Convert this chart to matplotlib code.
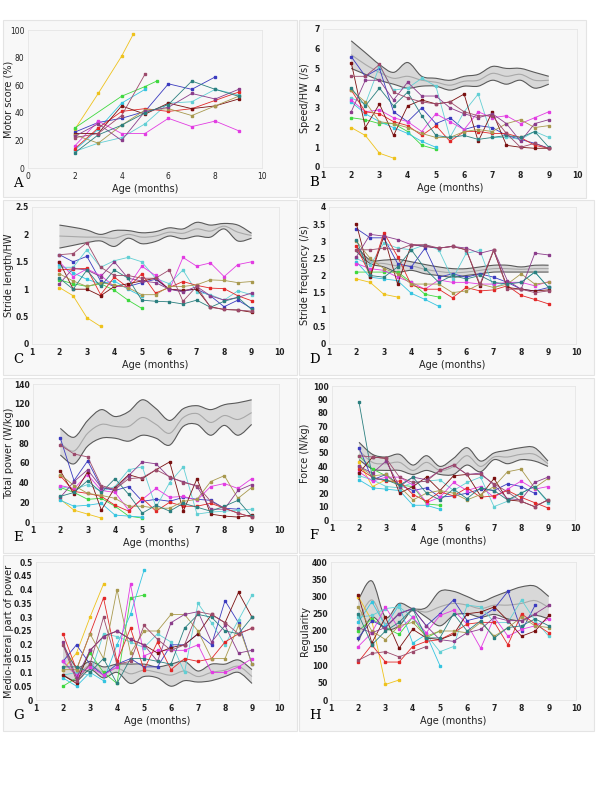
"""
Eight-panel plot of motor development measures by age (months), A-H.
"""
import numpy as np
import matplotlib.pyplot as plt
from matplotlib.patches import Rectangle, PathPatch
from matplotlib.path import Path
from matplotlib.transforms import blended_transform_factory

nan = np.nan

# one colour per infant
subject_colors = ["#eec21c", "#3fd83f", "#35c4e0", "#3b3bbf", "#62cfd4", "#e23ce2",
                  "#e22828", "#7a1010", "#a8994e", "#8b3d8b", "#2b7f7f", "#9c4a6c"]

ages = [2, 2.5, 3, 3.5, 4, 4.5, 5, 5.5, 6, 6.5, 7, 7.5, 8, 8.5, 9]

# panel A: motor score, each infant has its own ages
motor_ages = [[2, 3, 4, 4.5], [2, 4, 5, 5.5], [2, 3, 4, 5], [2, 3, 4, 5, 6, 7, 8],
              [2, 3, 4, 5, 6, 7, 8, 9], [2, 3, 4, 5, 6, 7, 8, 9], [2, 3, 4, 5, 6, 7, 8, 9],
              [2, 3, 4, 5, 6, 7, 8, 9], [2, 3, 4, 5, 6, 7, 8, 9], [2, 3, 4, 5, 6, 7, 8, 9],
              [2, 3, 4, 5, 6, 7, 8, 9], [2, 3, 4, 5]]
motor_score = [[28, 54, 81, 97], [29, 52, 59, 63], [13, 28, 47, 57], [26, 33, 36, 41, 61, 57, 66],
               [12, 18, 22, 32, 47, 48, 57, 53], [16, 34, 25, 25, 36, 30, 34, 27],
               [14, 29, 41, 43, 41, 43, 49, 55], [25, 25, 45, 39, 47, 43, 45, 50],
               [24, 18, 31, 42, 43, 38, 45, 52], [23, 32, 20, 41, 44, 54, 50, 57],
               [11, 24, 31, 40, 46, 63, 57, 52], [22, 25, 38, 68]]

speed = [
    [2.0, 1.6, 0.7, 0.45] + [nan] * 11,
    [2.5, 2.4, 2.2, 2.2, 1.8, 1.1, 0.9] + [nan] * 8,
    [3.3, 2.7, 2.3, 2.0, 1.7, 1.3, 1.0] + [nan] * 8,
    [5.6, 4.6, 5.0, 2.8, 2.3, 3.0, 2.2, 2.5, 1.9, 2.1, 2.0, 1.6, 1.4, 1.2, 0.95],
    [3.5, 3.2, 5.1, 3.9, 4.0, 4.5, 4.1, 1.5, 2.8, 3.7, 1.5, 1.5, 1.4, 1.8, 1.5],
    [3.4, 2.8, 2.9, 2.5, 2.3, 1.8, 2.7, 2.3, 1.9, 2.8, 2.5, 2.6, 2.2, 2.5, 2.8],
    [3.9, 2.8, 2.7, 2.3, 2.1, 1.6, 2.1, 1.3, 1.8, 1.8, 1.7, 1.7, 1.5, 1.1, 0.95],
    [5.3, 2.0, 3.2, 1.6, 3.1, 3.4, 3.2, 3.3, 3.7, 1.3, 2.8, 1.1, 1.0, 0.95, 0.95],
    [3.9, 3.3, 2.3, 2.2, 2.0, 1.7, 1.5, 1.5, 1.8, 1.9, 1.8, 2.2, 2.4, 2.0, 2.1],
    [2.8, 4.4, 4.4, 3.4, 4.3, 3.6, 3.6, 3.0, 2.7, 2.5, 2.7, 2.2, 1.3, 2.2, 2.4],
    [4.0, 3.1, 4.0, 3.1, 3.8, 2.6, 1.6, 1.5, 1.6, 1.4, 1.5, 1.6, 1.5, 1.8, 1.0],
    [4.6, 4.6, 5.2, 3.8, 3.5, 3.3, 3.2, 3.3, 2.8, 2.6, 2.6, 1.7, 1.0, 1.2, 0.95],
]
speed_high = [6.4, 5.8, 5.2, 4.8, 5.3, 4.6, 4.5, 4.4, 4.6, 4.7, 5.1, 5.0, 5.0, 4.8, 4.6]
speed_mid = [5.7, 5.2, 4.8, 4.5, 4.6, 4.4, 4.3, 4.15, 4.35, 4.4, 4.75, 4.6, 4.7, 4.4, 4.4]
speed_low = [5.0, 4.7, 4.4, 4.2, 4.0, 4.1, 4.1, 3.9, 4.1, 4.1, 4.4, 4.2, 4.4, 4.0, 4.2]

stride_length = [
    [1.03, 0.88, 0.48, 0.32] + [nan] * 11,
    [1.17, 1.1, 1.05, 1.1, 0.98, 0.8, 0.65] + [nan] * 8,
    [1.45, 1.3, 1.18, 1.1, 1.15, 1.0, 0.87] + [nan] * 8,
    [1.63, 1.5, 1.6, 1.15, 1.05, 1.05, 1.12, 1.18, 1.0, 0.97, 1.0, 0.88, 0.68, 0.8, 0.65],
    [1.4, 1.4, 1.72, 1.4, 1.52, 1.58, 1.5, 1.2, 1.1, 1.35, 0.95, 0.9, 0.8, 0.97, 0.9],
    [1.5, 1.23, 1.37, 1.25, 1.05, 1.05, 1.42, 1.25, 0.98, 1.58, 1.42, 1.48, 1.23, 1.45, 1.5],
    [1.35, 1.37, 1.38, 0.9, 1.22, 1.03, 1.28, 0.93, 1.03, 1.14, 1.07, 1.02, 1.01, 0.88, 0.79],
    [1.5, 1.0, 1.0, 0.88, 1.05, 1.1, 1.15, 1.2, 1.0, 0.98, 1.0, 0.68, 0.63, 0.62, 0.58],
    [1.28, 1.15, 1.05, 1.12, 1.08, 1.03, 0.9, 0.9, 1.05, 1.05, 1.08, 1.17, 1.16, 1.12, 1.14],
    [1.1, 1.38, 1.35, 1.23, 1.5, 1.2, 1.15, 1.12, 1.0, 0.95, 1.05, 0.88, 0.8, 0.85, 0.93],
    [1.2, 1.0, 1.35, 1.05, 1.35, 1.2, 0.8, 0.78, 0.77, 0.73, 0.8, 0.67, 0.78, 0.85, 0.63],
    [1.63, 1.65, 1.85, 1.4, 1.25, 1.25, 1.2, 1.2, 1.35, 0.78, 1.05, 0.67, 0.63, 0.62, 0.6],
]
stride_length_high = [2.17, 2.13, 2.08, 2.0, 2.07, 2.07, 2.03, 2.05, 2.12, 2.1, 2.22, 2.17, 2.2, 2.17, 2.02]
stride_length_mid = [1.97, 1.96, 1.95, 1.95, 1.93, 2.0, 1.95, 1.97, 2.04, 2.02, 2.1, 2.06, 2.15, 2.04, 1.98]
stride_length_low = [1.75, 1.8, 1.85, 1.88, 1.78, 1.93, 1.83, 1.87, 1.97, 1.92, 1.97, 1.95, 2.1, 1.88, 1.93]

stride_freq = [
    [1.9, 1.8, 1.45, 1.37] + [nan] * 11,
    [2.1, 2.1, 2.1, 2.1, 1.8, 1.45, 1.37] + [nan] * 8,
    [2.4, 1.95, 1.9, 1.85, 1.48, 1.3, 1.1] + [nan] * 8,
    [3.37, 3.1, 3.1, 2.35, 2.25, 2.8, 1.95, 2.05, 1.95, 2.05, 1.95, 1.8, 1.6, 1.55, 1.65],
    [2.5, 2.3, 2.95, 2.8, 2.75, 2.9, 2.75, 1.9, 2.65, 2.73, 1.65, 1.8, 1.8, 2.1, 1.65],
    [2.35, 2.2, 2.15, 1.95, 1.8, 1.6, 1.87, 1.8, 1.8, 1.75, 1.75, 1.8, 1.8, 1.7, 1.82],
    [2.85, 2.0, 3.25, 2.55, 1.72, 1.6, 1.6, 1.35, 1.65, 1.55, 1.58, 1.7, 1.42, 1.3, 1.17],
    [3.5, 1.95, 3.15, 1.75, 2.9, 2.85, 2.8, 2.85, 2.75, 1.7, 2.73, 1.65, 1.6, 1.55, 1.58],
    [3.0, 2.5, 2.2, 2.05, 1.75, 1.75, 1.75, 1.5, 1.55, 1.75, 1.65, 1.75, 2.05, 1.75, 1.8],
    [2.55, 3.2, 3.15, 3.05, 2.9, 2.85, 2.8, 2.85, 2.8, 2.65, 2.75, 1.85, 1.6, 2.65, 2.6],
    [3.05, 2.0, 1.95, 2.25, 2.75, 2.2, 1.8, 2.0, 1.9, 2.0, 1.8, 1.75, 1.8, 2.1, 1.65],
    [2.75, 2.75, 2.8, 2.75, 2.9, 2.9, 2.8, 2.85, 2.75, 1.75, 2.75, 1.6, 1.6, 1.5, 1.55],
]
stride_freq_high = [2.85, 2.45, 2.45, 2.47, 2.4, 2.32, 2.25, 2.2, 2.2, 2.25, 2.3, 2.3, 2.25, 2.3, 2.3]
stride_freq_mid = [2.78, 2.4, 2.35, 2.28, 2.28, 2.18, 2.12, 2.08, 2.1, 2.15, 2.2, 2.2, 2.18, 2.2, 2.2]
stride_freq_low = [2.7, 2.35, 2.25, 2.1, 2.15, 2.05, 2.0, 1.95, 2.0, 2.05, 2.1, 2.1, 2.1, 2.1, 2.1]

power = [
    [23, 12, 8, 4] + [nan] * 11,
    [35, 30, 23, 24, 16, 6, 4] + [nan] * 8,
    [22, 16, 17, 19, 7, 6, 5] + [nan] * 8,
    [85, 42, 62, 35, 32, 36, 21, 23, 21, 25, 23, 22, 14, 13, nan],
    [36, 33, 38, 31, 36, 53, 56, 15, 40, 56, 8, 10, 11, 12, 13],
    [37, 34, 48, 32, 30, 12, 23, 34, 25, 26, 22, 36, 39, 34, 44],
    [47, 31, 29, 26, 17, 11, 24, 11, 20, 16, 16, 19, 14, 9, 5],
    [52, 28, 51, 12, 35, 48, 44, 53, 61, 11, 44, 8, 6, 5, 7],
    [48, 37, 29, 27, 24, 16, 16, 14, 14, 21, 23, 41, 47, 24, 35],
    [25, 41, 53, 35, 33, 47, 61, 59, 45, 41, 36, 13, 13, 32, 38],
    [26, 30, 42, 30, 44, 28, 9, 17, 11, 19, 15, 11, 16, 22, 6],
    [78, 69, 66, 37, 33, 44, 45, 53, 46, 40, 37, 21, 14, 9, 5],
]
power_high = [95, 86, 103, 114, 107, 112, 124, 115, 103, 115, 118, 114, 119, 121, 124]
power_mid = [80, 72, 90, 99, 97, 97, 106, 99, 90, 106, 110, 101, 108, 104, 111]
power_low = [68, 59, 77, 85, 85, 82, 88, 85, 78, 97, 99, 88, 98, 88, 99]

force = [
    [43, 25, 30, 27] + [nan] * 11,
    [48, 38, 33, 26, 25, 12, 11] + [nan] * 8,
    [30, 24, 23, 22, 11, 11, 8] + [nan] * 8,
    [54, 30, 34, 26, 22, 24, 17, 18, 20, 23, 22, 27, 25, 20, nan],
    [33, 30, 25, 24, 28, 29, 30, 22, 28, 32, 10, 14, 20, 25, 13],
    [36, 29, 32, 32, 26, 13, 17, 28, 22, 25, 17, 23, 29, 23, 25],
    [38, 32, 29, 29, 19, 14, 21, 18, 24, 17, 18, 22, 17, 13, 9],
    [35, 47, 46, 20, 25, 32, 22, 33, 34, 18, 31, 15, 14, 10, 15],
    [40, 33, 34, 25, 15, 20, 22, 20, 15, 19, 25, 36, 38, 24, 31],
    [40, 35, 44, 25, 32, 30, 37, 41, 34, 35, 26, 16, 15, 28, 32],
    [88, 31, 30, 26, 32, 20, 15, 23, 16, 24, 22, 15, 20, 25, 14],
    [48, 47, 46, 32, 28, 29, 37, 41, 34, 34, 27, 21, 14, 10, 15],
]
force_high = [58, 49, 47, 49, 41, 48, 40, 46, 54, 44, 50, 52, 54, 54, 44]
force_mid = [52, 43, 42, 43, 37, 43, 37, 40, 48, 40, 47, 47, 49, 49, 42]
force_low = [45, 38, 37, 37, 34, 37, 34, 34, 41, 36, 45, 42, 45, 44, 40]

ml_power = [
    [0.11, 0.17, 0.3, 0.42] + [nan] * 11,
    [0.05, 0.08, 0.17, 0.1, 0.06, 0.37, 0.38] + [nan] * 8,
    [0.08, 0.05, 0.1, 0.07, 0.2, 0.31, 0.47] + [nan] * 8,
    [0.14, 0.2, 0.13, 0.09, 0.13, 0.15, 0.12, 0.12, 0.2, 0.2, 0.24, 0.2, 0.36, 0.28, 0.13],
    [0.09, 0.1, 0.09, 0.24, 0.23, 0.21, 0.19, 0.24, 0.21, 0.1, 0.35, 0.28, 0.2, 0.29, 0.38],
    [0.14, 0.09, 0.12, 0.09, 0.12, 0.42, 0.16, 0.18, 0.18, 0.18, 0.2, 0.1, 0.1, 0.12, 0.15],
    [0.24, 0.11, 0.24, 0.37, 0.14, 0.26, 0.11, 0.21, 0.11, 0.15, 0.14, 0.15, 0.21, 0.24, 0.26],
    [0.09, 0.06, 0.18, 0.23, 0.25, 0.22, 0.2, 0.17, 0.19, 0.2, 0.24, 0.31, 0.28, 0.39, 0.3],
    [0.11, 0.11, 0.24, 0.15, 0.4, 0.17, 0.25, 0.25, 0.31, 0.31, 0.25, 0.15, 0.15, 0.27, 0.13],
    [0.21, 0.08, 0.18, 0.23, 0.25, 0.22, 0.2, 0.14, 0.28, 0.31, 0.32, 0.21, 0.27, 0.17, 0.18],
    [0.12, 0.12, 0.1, 0.15, 0.06, 0.15, 0.15, 0.14, 0.13, 0.26, 0.31, 0.3, 0.25, 0.24, 0.3],
    [0.2, 0.07, 0.13, 0.3, 0.13, 0.14, 0.27, 0.22, 0.18, 0.2, 0.32, 0.31, 0.28, 0.24, 0.26],
]
ml_power_high = [0.2, 0.12, 0.14, 0.12, 0.13, 0.13, 0.13, 0.12, 0.13, 0.14, 0.105, 0.13, 0.13, 0.145, 0.11]
ml_power_mid = [0.14, 0.095, 0.125, 0.1, 0.115, 0.095, 0.108, 0.1, 0.09, 0.105, 0.085, 0.1, 0.108, 0.122, 0.085]
ml_power_low = [0.09, 0.07, 0.11, 0.08, 0.1, 0.06, 0.085, 0.08, 0.05, 0.07, 0.065, 0.07, 0.085, 0.1, 0.06]

regularity = [
    [300, 230, 45, 58] + [nan] * 11,
    [200, 235, 210, 190, 240, 180, 200] + [nan] * 8,
    [225, 285, 215, 275, 165, 190, 100] + [nan] * 8,
    [180, 230, 210, 250, 265, 215, 250, 290, 230, 240, 265, 315, 200, 275, nan],
    [240, 245, 265, 270, 240, 190, 140, 155, 275, 270, 225, 225, 290, 230, 185],
    [155, 195, 270, 205, 240, 195, 245, 260, 220, 150, 240, 185, 205, 215, 235],
    [110, 160, 110, 110, 155, 170, 175, 195, 220, 225, 225, 160, 250, 220, 195],
    [305, 165, 240, 150, 205, 180, 175, 190, 250, 255, 270, 230, 185, 200, 245],
    [270, 200, 175, 215, 225, 185, 200, 200, 195, 225, 185, 210, 240, 215, 210],
    [210, 195, 210, 250, 265, 215, 175, 170, 195, 205, 240, 230, 230, 250, 275],
    [250, 160, 200, 225, 265, 180, 180, 250, 200, 230, 180, 210, 215, 235, 215],
    [115, 135, 140, 125, 140, 155] + [nan] * 9,
]
regularity_high = [290, 345, 240, 280, 265, 268, 315, 315, 300, 285, 300, 315, 328, 330, 300]
regularity_mid = [230, 290, 222, 250, 262, 255, 270, 280, 275, 265, 275, 275, 280, 288, 268]
regularity_low = [170, 240, 205, 215, 260, 240, 215, 245, 250, 240, 248, 235, 230, 245, 235]

W, H = 600, 800


def smooth_path(xs, ys):
    # Catmull-Rom through the points, drawn as cubic bezier segments
    pts = np.column_stack([xs, ys]).astype(float)
    verts = [pts[0]]
    codes = [Path.MOVETO]
    n = len(pts)
    for i in range(n - 1):
        p0 = pts[max(i - 1, 0)]
        p1, p2 = pts[i], pts[i + 1]
        p3 = pts[min(i + 2, n - 1)]
        verts += [p1 + (p2 - p0) / 6, p2 - (p3 - p1) / 6, p2]
        codes += [Path.CURVE4] * 3
    return verts, codes


def add_band(ax, high, mid, low):
    vh, ch = smooth_path(ages, high)
    vl, cl = smooth_path(ages[::-1], low[::-1])
    cl[0] = Path.LINETO
    band = Path(vh + vl + [vh[0]], ch + cl + [Path.CLOSEPOLY])
    ax.add_patch(PathPatch(band, facecolor="#d8d8d8", edgecolor="none", zorder=1))
    for vals, col in ((high, "#5a5a5a"), (low, "#5a5a5a"), (mid, "#a8a8a8")):
        v, c = smooth_path(ages, vals)
        ax.add_patch(PathPatch(Path(v, c), facecolor="none", edgecolor=col, lw=0.8, zorder=2))


def make_panel(fig, frame, box, xlim, ylim, yticks, ylabel, letter, bold_ticks=True):
    fx0, fy0, fx1, fy1 = frame
    fig.add_artist(Rectangle((fx0 / W, 1 - fy1 / H), (fx1 - fx0) / W, (fy1 - fy0) / H,
                             transform=fig.transFigure, facecolor="#f8f8f8",
                             edgecolor="#e4e4e4", lw=0.8, zorder=0))
    x0, x1, yt, yb = box
    ax = fig.add_axes([x0 / W, 1 - yb / H, (x1 - x0) / W, (yb - yt) / H])
    ax.set_facecolor("#f7f7f7")
    for s in ax.spines.values():
        s.set_color("#e6e6e6")
        s.set_linewidth(0.6)
    ax.set_xlim(xlim)
    ax.set_ylim(ylim)
    ax.set_xticks(range(xlim[0], xlim[1] + 1, 2 if xlim[0] == 0 else 1))
    ax.set_yticks(yticks)
    ax.set_yticklabels([f"{t:g}" for t in yticks])
    ax.tick_params(length=0, labelsize=5.5, pad=3, labelcolor="#222222")
    ax.tick_params(axis="y", pad=2.5)
    if bold_ticks:
        for lab in ax.get_xticklabels() + ax.get_yticklabels():
            lab.set_fontweight("bold")
    ax.set_xlabel("Age (months)", fontsize=7, labelpad=2, color="#222222")
    ax.set_ylabel(ylabel, fontsize=7, color="#222222")
    # y label right edge placed just inside the panel frame
    ax.yaxis.set_label_coords((fx0 + 11) / W, 0.5,
                              transform=blended_transform_factory(fig.transFigure, ax.transAxes))
    fig.text((fx0 + 10) / W, 1 - (yb + 22) / H, letter, family="DejaVu Serif",
             fontsize=9.5, va="bottom", ha="left")
    return ax


def draw_lines(ax, x_lists, y_lists, msize=1.5):
    for xs, ys, col in zip(x_lists, y_lists, subject_colors):
        ax.plot(xs, ys, color=col, lw=0.6, marker="s", ms=msize, mec=col, zorder=3)


fig = plt.figure(figsize=(6, 8), dpi=100)

panels = [
    ("A", (3, 20, 297, 197), (28, 262, 30, 168), (0, 10), (0, 100), range(0, 101, 20), "Motor score (%)"),
    ("B", (299, 20, 586, 198), (323, 577, 29, 167), (1, 10), (0, 7), range(0, 8), "Speed/HW (/s)"),
    ("C", (3, 200, 297, 375), (32, 279, 207, 344), (1, 10), (0, 2.5), np.arange(0, 2.51, 0.5), "Stride length/HW"),
    ("D", (299, 200, 594, 375), (329, 576, 207, 344), (1, 10), (0, 4), np.arange(0, 4.01, 0.5), "Stride frequency (/s)"),
    ("E", (3, 378, 297, 553), (33, 279, 384, 522), (1, 10), (0, 140), range(0, 141, 20), "Total power (W/kg)"),
    ("F", (299, 378, 594, 553), (332, 575, 386, 520), (1, 10), (0, 100), range(0, 101, 10), "Force (N/kg)"),
    ("G", (3, 555, 297, 731), (36, 279, 562, 700), (1, 10), (0, 0.5), np.round(np.arange(0, 0.501, 0.05), 2), "Medio-lateral part of power"),
    ("H", (299, 555, 594, 731), (331, 576, 562, 700), (1, 10), (0, 400), range(0, 401, 50), "Regularity"),
]
series = {
    "B": (speed, speed_high, speed_mid, speed_low),
    "C": (stride_length, stride_length_high, stride_length_mid, stride_length_low),
    "D": (stride_freq, stride_freq_high, stride_freq_mid, stride_freq_low),
    "E": (power, power_high, power_mid, power_low),
    "F": (force, force_high, force_mid, force_low),
    "G": (ml_power, ml_power_high, ml_power_mid, ml_power_low),
    "H": (regularity, regularity_high, regularity_mid, regularity_low),
}

for letter, frame, box, xlim, ylim, yticks, ylabel in panels:
    ax = make_panel(fig, frame, box, xlim, ylim, list(yticks), ylabel, letter,
                    bold_ticks=(letter != "A"))
    if letter == "A":
        draw_lines(ax, motor_ages, motor_score, msize=2.0)
    else:
        vals, high, mid, low = series[letter]
        add_band(ax, high, mid, low)
        draw_lines(ax, [ages] * len(vals), vals)

fig.savefig("out.png", dpi=100)
